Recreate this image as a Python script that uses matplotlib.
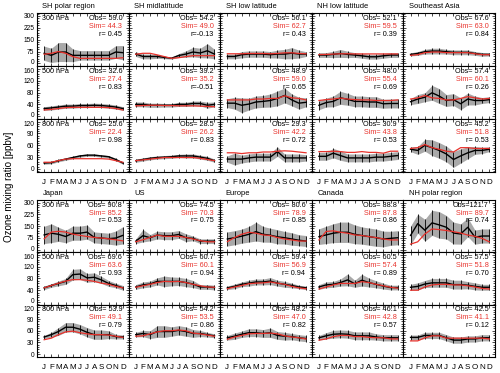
import numpy as np
import matplotlib
matplotlib.use("Agg")
import matplotlib.pyplot as plt
import matplotlib.transforms as mtransforms
from matplotlib.ticker import AutoMinorLocator

plt.rcParams['font.family'] = ['Liberation Sans', 'DejaVu Sans']

months = ["J", "F", "M", "A", "M", "J", "J", "A", "S", "O", "N", "D"]
levels = ["300 hPa", "500 hPa", "800 hPa"]
regions_top = ["SH polar region", "SH midlatitude", "SH low latitude", "NH low latitude", "Southeast Asia"]
regions_bottom = ["Japan", "US", "Europe", "Canada", "NH polar region"]

# monthly values per region, rows = 300 / 500 / 800 hPa
obs_sh_polar = [[64, 51, 72, 72, 51, 51, 51, 51, 51, 51, 72, 68],
                [26, 28, 31, 34, 34, 36, 36, 37, 36, 34, 31, 26],
                [15, 16, 21, 25, 29, 33, 35, 35, 33, 31, 24, 15]]
std_sh_polar = [[45, 45, 60, 60, 40, 30, 30, 30, 30, 30, 40, 45],
                [6, 7, 7, 7, 7, 7, 7, 7, 7, 7, 7, 6],
                [3, 3, 3, 3, 3, 3, 3, 3, 3, 3, 3, 3]]
sim_sh_polar = [[58, 64, 75, 64, 43, 32, 32, 32, 32, 32, 32, 36],
                [21, 23, 26, 29, 30, 30, 30, 30, 30, 29, 26, 21],
                [17, 17, 21, 25, 26, 26, 26, 26, 26, 25, 21, 17]]

obs_sh_mid = [[59, 44, 44, 44, 38, 33, 50, 59, 72, 66, 80, 59],
              [40, 40, 37, 37, 37, 37, 40, 40, 43, 43, 37, 40],
              [21, 24, 27, 29, 30, 31, 33, 33, 33, 30, 27, 21]]
std_sh_mid = [[15, 15, 15, 12, 8, 6, 12, 20, 30, 30, 45, 30],
              [8, 8, 7, 7, 6, 6, 7, 7, 8, 8, 10, 8],
              [4, 4, 4, 4, 4, 4, 4, 5, 5, 5, 5, 4]]
sim_sh_mid = [[58, 64, 64, 54, 43, 32, 36, 43, 49, 49, 49, 49],
              [35, 36, 37, 37, 36, 36, 35, 35, 35, 34, 33, 32],
              [21, 23, 25, 27, 29, 29, 29, 29, 29, 27, 24, 21]]

obs_sh_low = [[44, 44, 55, 59, 59, 59, 55, 59, 59, 65, 59, 59],
              [44, 44, 37, 41, 48, 50, 53, 60, 70, 55, 44, 47],
              [25, 25, 25, 28, 30, 30, 30, 44, 28, 28, 28, 28]]
std_sh_low = [[15, 15, 20, 20, 20, 20, 20, 25, 30, 35, 25, 15],
              [15, 20, 25, 20, 20, 20, 22, 25, 25, 20, 20, 15],
              [8, 15, 10, 10, 10, 10, 10, 12, 10, 10, 10, 8]]
sim_sh_low = [[61, 61, 61, 63, 63, 63, 61, 63, 67, 67, 63, 61],
              [55, 55, 55, 55, 58, 58, 60, 60, 69, 62, 60, 55],
              [41, 41, 39, 41, 41, 43, 43, 45, 46, 45, 43, 41]]

obs_nh_low = [[53, 53, 57, 63, 57, 53, 48, 42, 42, 48, 53, 53],
              [37, 46, 50, 62, 57, 50, 50, 48, 48, 42, 43, 43],
              [32, 32, 40, 34, 28, 28, 28, 28, 30, 30, 32, 34]]
std_nh_low = [[15, 15, 20, 25, 20, 15, 15, 15, 15, 15, 15, 15],
              [15, 15, 18, 22, 20, 18, 18, 18, 18, 15, 15, 15],
              [10, 10, 12, 12, 10, 10, 10, 10, 10, 10, 10, 10]]
sim_nh_low = [[56, 57, 59, 61, 61, 60, 60, 60, 60, 60, 60, 60],
              [53, 56, 58, 61, 58, 56, 55, 55, 53, 53, 53, 55],
              [44, 44, 45, 44, 42, 42, 44, 42, 42, 40, 45, 45]]

obs_se_asia = [[57, 63, 74, 78, 78, 74, 70, 70, 70, 63, 57, 57],
               [49, 58, 64, 79, 68, 53, 56, 42, 58, 53, 53, 56],
               [50, 47, 60, 54, 47, 38, 24, 33, 41, 47, 47, 50]]
std_se_asia = [[10, 12, 15, 18, 18, 15, 15, 15, 15, 12, 12, 10],
               [10, 15, 15, 25, 25, 20, 20, 20, 20, 15, 10, 10],
               [6, 10, 15, 20, 20, 20, 20, 18, 15, 10, 8, 6]]
sim_se_asia = [[51, 55, 68, 72, 72, 68, 68, 68, 68, 61, 55, 55],
               [58, 62, 70, 62, 60, 55, 55, 60, 66, 62, 58, 60],
               [52, 54, 62, 54, 50, 45, 43, 54, 54, 52, 52, 52]]

obs_japan = [[94, 105, 98, 84, 105, 105, 112, 78, 74, 70, 74, 91],
             [48, 56, 63, 70, 93, 95, 82, 84, 75, 63, 56, 48],
             [44, 50, 58, 69, 69, 64, 56, 50, 50, 50, 45, 44]]
std_japan = [[55, 60, 45, 40, 45, 45, 45, 35, 35, 35, 45, 55],
             [6, 6, 8, 10, 18, 18, 15, 15, 12, 10, 8, 8],
             [4, 6, 10, 12, 12, 12, 12, 12, 12, 10, 6, 5]]
sim_japan = [[69, 112, 117, 112, 99, 91, 84, 78, 74, 69, 63, 56],
             [48, 56, 64, 71, 76, 76, 74, 70, 64, 60, 53, 48],
             [37, 41, 50, 57, 59, 55, 52, 50, 50, 49, 46, 43]]

obs_us = [[54, 89, 76, 93, 89, 89, 97, 76, 72, 54, 54, 54],
          [51, 58, 61, 70, 70, 70, 70, 66, 61, 51, 51, 49],
          [50, 53, 50, 58, 58, 58, 61, 58, 53, 53, 50, 47]]
std_us = [[15, 40, 20, 25, 25, 25, 25, 25, 15, 15, 15, 15],
          [8, 10, 10, 12, 18, 15, 14, 14, 12, 8, 8, 8],
          [6, 8, 10, 15, 15, 12, 12, 12, 10, 8, 6, 5]]
sim_us = [[50, 63, 78, 93, 85, 85, 85, 78, 68, 57, 50, 50],
          [50, 55, 60, 66, 70, 69, 70, 66, 60, 55, 51, 50],
          [46, 47, 52, 57, 60, 60, 62, 60, 54, 52, 49, 46]]

obs_europe = [[68, 76, 86, 98, 115, 98, 92, 82, 76, 68, 60, 55],
              [48, 53, 60, 64, 68, 68, 71, 64, 60, 56, 51, 48],
              [42, 46, 51, 55, 55, 53, 55, 48, 46, 45, 42, 40]]
std_europe = [[45, 45, 45, 50, 60, 50, 45, 45, 40, 40, 35, 35],
              [6, 8, 8, 10, 10, 10, 12, 10, 10, 8, 6, 6],
              [6, 8, 8, 10, 10, 10, 12, 10, 10, 8, 8, 8]]
sim_europe = [[51, 77, 98, 111, 105, 94, 90, 77, 68, 62, 55, 55],
              [45, 51, 56, 62, 64, 65, 68, 64, 60, 53, 48, 45],
              [38, 44, 48, 52, 53, 53, 54, 52, 47, 44, 42, 39]]

obs_canada = [[83, 94, 105, 111, 111, 98, 90, 83, 76, 68, 72, 76],
              [51, 58, 60, 66, 75, 62, 74, 66, 60, 54, 49, 49],
              [42, 47, 51, 52, 51, 47, 47, 47, 44, 42, 42, 42]]
std_canada = [[50, 55, 60, 65, 65, 60, 55, 55, 55, 50, 45, 45],
              [8, 10, 10, 12, 20, 12, 20, 15, 12, 10, 8, 8],
              [6, 8, 10, 10, 10, 10, 10, 10, 8, 8, 8, 8]]
sim_canada = [[62, 116, 120, 111, 105, 94, 90, 83, 77, 68, 62, 62],
              [44, 51, 58, 63, 63, 63, 69, 66, 60, 55, 50, 47],
              [36, 39, 45, 48, 48, 45, 45, 43, 42, 42, 39, 39]]

obs_nh_polar = [[91, 166, 124, 171, 158, 143, 106, 100, 143, 80, 87, 87],
                [50, 53, 61, 65, 65, 65, 59, 59, 57, 53, 50, 50],
                [43, 43, 48, 48, 48, 42, 36, 36, 39, 39, 42, 42]]
std_nh_polar = [[60, 60, 70, 80, 85, 75, 70, 65, 60, 45, 45, 45],
                [10, 12, 12, 15, 15, 15, 15, 15, 12, 12, 10, 10],
                [6, 6, 8, 8, 8, 8, 8, 8, 8, 8, 8, 8]]
sim_nh_polar = [[35, 50, 100, 132, 128, 122, 115, 106, 93, 85, 72, 50],
                [40, 40, 51, 58, 60, 60, 58, 58, 55, 51, 46, 44],
                [34, 34, 42, 47, 47, 41, 41, 41, 41, 41, 41, 39]]

# statistics printed in each panel, rows = levels, columns = regions
mean_obs_top = [[59.0, 54.2, 56.1, 52.1, 67.6],
                [32.6, 39.2, 48.9, 48.0, 57.4],
                [25.6, 28.5, 29.3, 30.9, 45.2]]
mean_sim_top = [[44.3, 49.0, 62.7, 59.5, 63.0],
                [27.4, 35.2, 59.0, 55.4, 60.1],
                [22.4, 26.2, 42.2, 43.8, 51.8]]
corr_top = [[0.45, -0.13, 0.43, 0.39, 0.84],
            [0.83, -0.51, 0.65, 0.69, 0.26],
            [0.98, 0.83, 0.72, 0.53, 0.53]]
mean_obs_bottom = [[90.8, 74.5, 80.6, 88.8, 121.7],
                   [69.6, 60.7, 59.4, 60.5, 57.5],
                   [53.9, 54.2, 48.2, 46.1, 42.5]]
mean_sim_bottom = [[85.2, 70.3, 78.9, 87.8, 89.7],
                   [63.6, 60.1, 56.9, 57.4, 51.8],
                   [49.1, 53.5, 47.0, 42.8, 41.1]]
corr_bottom = [[0.53, 0.75, 0.85, 0.86, 0.74],
               [0.93, 0.94, 0.94, 0.89, 0.70],
               [0.79, 0.86, 0.82, 0.57, 0.12]]

yticks = [[0, 75, 150, 225, 300], [0, 40, 80, 120, 160], [0, 30, 60, 90, 120]]
ylims = [(-17, 317), (-9, 169), (-7, 127)]

RED = "#e8322c"
GRAY = "#a9a9a9"

data_top = [(obs_sh_polar, std_sh_polar, sim_sh_polar),
            (obs_sh_mid, std_sh_mid, sim_sh_mid),
            (obs_sh_low, std_sh_low, sim_sh_low),
            (obs_nh_low, std_nh_low, sim_nh_low),
            (obs_se_asia, std_se_asia, sim_se_asia)]
data_bottom = [(obs_japan, std_japan, sim_japan),
               (obs_us, std_us, sim_us),
               (obs_europe, std_europe, sim_europe),
               (obs_canada, std_canada, sim_canada),
               (obs_nh_polar, std_nh_polar, sim_nh_polar)]

fig = plt.figure(figsize=(5.0, 3.73), dpi=100)
W, H = 500.0, 373.0
left, pw = 37.0, 91.6
x = np.arange(1, 13)


def draw_block(top_px, ph, regions, data, m_obs, m_sim, corr):
    for c in range(5):
        for r in range(3):
            x0 = (left + c * pw) / W
            y0 = 1 - (top_px + (r + 1) * ph) / H
            ax = fig.add_axes([x0, y0, pw / W, ph / H])
            obs = np.array(data[c][0][r], float)
            std = np.array(data[c][1][r], float)
            sim = np.array(data[c][2][r], float)
            ax.fill_between(x, obs - std, obs + std, color=GRAY, lw=0, zorder=1)
            ax.vlines(x, obs - std, obs + std, color="k", lw=0.6, zorder=2)
            ax.plot(x, obs, color="k", lw=1.0, zorder=3)
            ax.plot(x, sim, color=RED, lw=0.9, zorder=4)
            ax.set_xlim(0, 12.8)
            ax.set_ylim(*ylims[r])
            ax.set_xticks(x)
            ax.set_yticks(yticks[r])
            ax.yaxis.set_minor_locator(AutoMinorLocator(5))
            ax.tick_params(which="both", direction="in", top=True, right=True,
                           width=0.5, labelsize=4.8, pad=2)
            ax.tick_params(which="major", length=2.5)
            ax.tick_params(which="minor", length=1.2)
            if r == 2:
                ax.set_xticklabels(months, fontsize=5.8)
                ax.tick_params(axis="x", pad=5)
            else:
                ax.set_xticklabels([])
            if c != 0:
                ax.set_yticklabels([])
            else:
                # nudge the end labels so neighbouring rows don't collide
                labs = ax.get_yticklabels()
                if r < 2:
                    labs[0].set_transform(labs[0].get_transform() +
                                          mtransforms.ScaledTranslation(0, 1.5 / 100, fig.dpi_scale_trans))
                if r > 0:
                    labs[-1].set_transform(labs[-1].get_transform() +
                                           mtransforms.ScaledTranslation(0, -1.5 / 100, fig.dpi_scale_trans))
            for s in ax.spines.values():
                s.set_linewidth(0.8)
            kw = dict(transform=ax.transAxes, ha="right", va="center", fontsize=5.2)
            ax.text(0.93, 0.9, "Obs=%5.1f" % m_obs[r][c], color="k", **kw)
            ax.text(0.93, 0.75, "Sim=%5.1f" % m_sim[r][c], color=RED, **kw)
            ax.text(0.93, 0.6, "r=%5.2f" % corr[r][c], color="k", **kw)
            if c == 0:
                ax.text(0.06, 0.9, levels[r], transform=ax.transAxes,
                        ha="left", va="center", fontsize=5.2)
            if r == 0:
                ax.text(0.06, 1.13, regions[c], transform=ax.transAxes,
                        ha="left", va="center", fontsize=5.4)


draw_block(13.3, 52.8, regions_top, data_top, mean_obs_top, mean_sim_top, corr_top)
draw_block(200.0, 52.3, regions_bottom, data_bottom, mean_obs_bottom, mean_sim_bottom, corr_bottom)

fig.text(0.018, 0.5, "Ozone mixing ratio [ppbv]", rotation=90, ha="center", va="center", fontsize=7)

fig.savefig("out.png", dpi=100)
